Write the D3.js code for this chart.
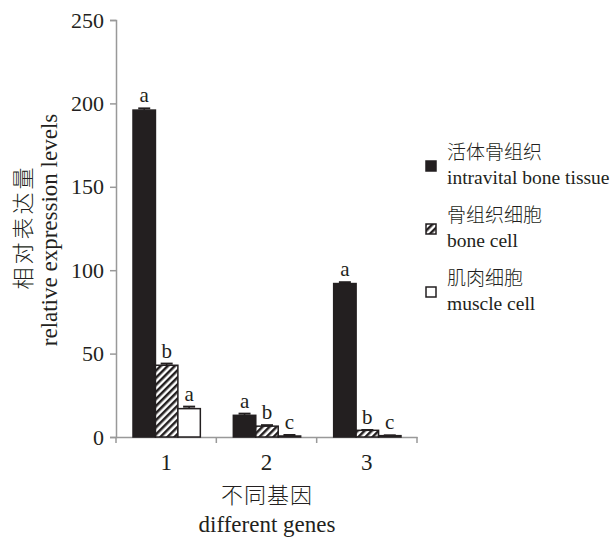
<!DOCTYPE html>
<html>
<head>
<meta charset="utf-8">
<script src="https://cdn.jsdelivr.net/npm/d3@7"></script>
<style>
  body { margin: 0; background: #fff; }
  svg text { font-family: "Liberation Serif", "Noto Sans CJK SC", serif; fill: #231f20; }
  svg text.cn { font-family: "Noto Sans CJK SC", sans-serif; font-weight: 300; }
</style>
</head>
<body>
<svg id="chart" width="612" height="538"></svg>
<script>
// data
const genes = ['1', '2', '3'];
const seriesNames = ['intravital bone tissue', 'bone cell', 'muscle cell'];
const seriesNamesCn = ['活体骨组织', '骨组织细胞', '肌肉细胞'];
const intravital = [196, 13, 92];
const boneCell = [43, 6.5, 4];
const muscleCell = [17, 0.6, 0.8];
const errVals = [[1, 1, 1.2], [1, 0.6, 0.6], [0.8, 0.2, 0.2]];
const sigLetters = [['a', 'b', 'a'], ['a', 'b', 'c'], ['a', 'b', 'c']];
const yTicks = [0, 50, 100, 150, 200, 250];

const margin = {top: 20, left: 116, right: 195, bottom: 101};
const svg = d3.select('#chart');
const width = 612 - margin.left - margin.right;
const height = 538 - margin.top - margin.bottom;
const g = svg.append('g').attr('transform', `translate(${margin.left},${margin.top})`);

const x0 = d3.scaleBand().domain(genes).range([0, width]);
const x1 = d3.scaleBand().domain([0, 1, 2]).range([17, x0.bandwidth() - 16]).padding(0);
const y = d3.scaleLinear().domain([0, 250]).range([height, 0]);

// hatch pattern
const defs = svg.append('defs');
const pat = defs.append('pattern').attr('id', 'hatch').attr('patternUnits', 'userSpaceOnUse')
  .attr('width', 5).attr('height', 5).attr('patternTransform', 'rotate(45)');
pat.append('rect').attr('width', 5).attr('height', 5).attr('fill', '#fff');
pat.append('rect').attr('width', 2.5).attr('height', 5).attr('fill', '#231f20');

const fills = ['#231f20', 'url(#hatch)', '#fff'];
const series = [intravital, boneCell, muscleCell];

// axes
const yAxis = g.append('g').call(d3.axisLeft(y).tickValues(yTicks).tickSize(6).tickPadding(6));
yAxis.selectAll('text').style('font-size', '22px');
const xAxis = g.append('g').attr('transform', `translate(0,${height})`)
  .call(d3.axisBottom(x0).tickSize(0).tickPadding(17));
xAxis.selectAll('text').style('font-size', '23px');
// tick marks at category boundaries
xAxis.selectAll('.bound').data(d3.range(genes.length + 1)).enter().append('line')
  .attr('x1', i => i * x0.bandwidth()).attr('x2', i => i * x0.bandwidth())
  .attr('y1', 0).attr('y2', 6);
[yAxis, xAxis].forEach(a => { a.selectAll('path,line').attr('stroke', '#999').attr('stroke-width', 1.5); });

// bars
genes.forEach((gene, gi) => {
  series.forEach((s, si) => {
    const bx = x0(gene) + x1(si);
    const bw = x1.bandwidth();
    g.append('rect')
      .attr('x', bx).attr('y', y(s[gi]))
      .attr('width', bw).attr('height', height - y(s[gi]))
      .attr('fill', fills[si]).attr('stroke', '#231f20').attr('stroke-width', 1.5);
    // error bar
    const cx = bx + bw / 2;
    const e = errVals[gi][si];
    g.append('line').attr('x1', cx).attr('x2', cx)
      .attr('y1', y(s[gi] + e)).attr('y2', y(s[gi])).attr('stroke', '#231f20').attr('stroke-width', 1.5);
    g.append('line').attr('x1', cx - 6).attr('x2', cx + 6)
      .attr('y1', y(s[gi] + e)).attr('y2', y(s[gi] + e)).attr('stroke', '#231f20').attr('stroke-width', 2);
    g.append('text').attr('x', cx).attr('y', y(s[gi] + e) - 6)
      .attr('text-anchor', 'middle').style('font-size', '21px').text(sigLetters[gi][si]);
  });
});

// axis titles
svg.append('text').attr('class', 'cn').attr('transform', 'translate(31,227) rotate(-90)')
  .attr('text-anchor', 'middle').style('font-size', '22px').style('letter-spacing', '3px').text('相对表达量');
svg.append('text').attr('transform', 'translate(57,230) rotate(-90)')
  .attr('text-anchor', 'middle').style('font-size', '23px').text('relative expression levels');
svg.append('text').attr('class', 'cn').attr('x', 267).attr('y', 503)
  .attr('text-anchor', 'middle').style('font-size', '22px').style('letter-spacing', '1px').text('不同基因');
svg.append('text').attr('x', 267).attr('y', 532)
  .attr('text-anchor', 'middle').style('font-size', '23px').text('different genes');

// legend
const legend = svg.append('g').attr('transform', 'translate(425,160)');
seriesNames.forEach((name, i) => {
  const lg = legend.append('g').attr('transform', `translate(0,${i * 63})`);
  lg.append('rect').attr('x', 1).attr('y', 1).attr('width', 10).attr('height', 10)
    .attr('fill', fills[i]).attr('stroke', '#231f20').attr('stroke-width', 1.5);
  lg.append('text').attr('class', 'cn').attr('x', 22).attr('y', -1).style('font-size', '19px').text(seriesNamesCn[i]);
  lg.append('text').attr('x', 22).attr('y', 24).style('font-size', '19.5px').text(name);
});
</script>
</body>
</html>
